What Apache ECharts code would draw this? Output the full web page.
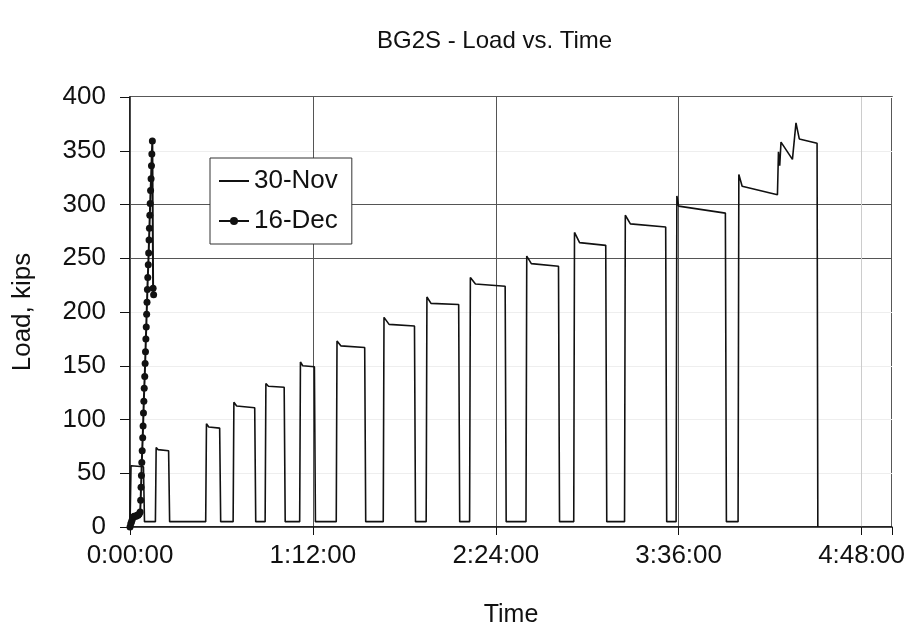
<!DOCTYPE html>
<html>
<head>
<meta charset="utf-8">
<script src="https://cdn.jsdelivr.net/npm/echarts@6/dist/echarts.min.js"></script>
<style>
  html, body { margin: 0; padding: 0; background: #fff; }
  #main { width: 914px; height: 636px; }
</style>
</head>
<body>
<div id="main"></div>
<script>
// time in minutes from start, load in kips
const novTime = [0, 0.4, 5.3, 5.7, 10.0, 10.3, 11, 15.2, 15.6, 29.8,
  30.1, 31, 35.3, 35.7, 40.6, 40.9, 42, 49.1, 49.5, 53.2,
  53.5, 54.5, 60.7, 61.1, 66.8, 67.1, 68, 72.6, 73, 81.2,
  81.5, 83, 92.4, 92.8, 99.7, 100, 102, 112, 112.4, 116.6,
  116.9, 118.5, 129.4, 129.8, 133.7, 134, 136, 147.7, 148.1, 155.9,
  156.2, 158, 168.7, 169.1, 174.7, 175, 177, 187.3, 187.7, 194.7,
  195, 197, 210.9, 211.3, 215, 215.3, 216, 234.4, 234.8, 239.4,
  239.7, 241, 254.9, 255.3, 255.8, 256.3, 260.8, 261.5, 262.2, 263.5,
  270.5, 270.8];
const novLoad = [0, 57, 56, 5, 5, 74, 72, 71, 5, 5,
  96, 93, 92, 5, 5, 116, 112.5, 111, 5, 5,
  133.5, 131, 130, 5, 5, 153.6, 150, 149, 5, 5,
  173, 168.5, 167, 5, 5, 195, 188.5, 187, 5, 5,
  214, 208, 207, 5, 5, 232, 226, 224, 5, 5,
  252, 245, 242.5, 5, 5, 274, 264.5, 262, 5, 5,
  290, 282, 279, 5, 5, 308, 298.5, 292, 5, 5,
  328, 317, 309, 349, 336, 358, 342, 341.5, 376, 361,
  357, 0];

const decTime = [0, 0.3, 0.6, 0.9, 1.2, 1.6, 2.0, 2.4, 2.8, 3.2, 3.6,
  4.0, 4.2, 4.35, 4.5, 4.65, 4.8, 5.0, 5.15, 5.3, 5.45,
  5.6, 5.8, 5.95, 6.1, 6.25, 6.4, 6.55, 6.7, 6.85, 7.0,
  7.2, 7.35, 7.5, 7.65, 7.8, 7.95, 8.1, 8.3, 8.45, 8.6,
  8.8, 9.1, 9.3];
const decLoad = [0, 3, 5, 7, 9, 10, 10, 10, 11, 11, 12,
  14, 25, 37, 48, 60, 71, 83, 94, 106, 117,
  129, 140, 152, 163, 175, 186, 198, 209, 221, 232,
  244, 255, 267, 278, 290, 301, 313, 324, 336, 347,
  359, 222, 216];

const yTicks = [0, 50, 100, 150, 200, 250, 300, 350, 400];
const xTicks = [0, 72, 144, 216, 288];

function fmtTime(m) {
  const h = Math.floor(m / 60);
  const mm = m % 60;
  return h + ':' + (mm < 10 ? '0' : '') + mm + ':00';
}

const chart = echarts.init(document.getElementById('main'));
const font = 'Liberation Sans, Arial, sans-serif';

chart.setOption({
  animation: false,
  backgroundColor: '#fff',
  textStyle: { fontFamily: font, color: '#111' },
  title: {
    text: 'BG2S - Load vs. Time',
    left: 372,
    top: 24,
    textStyle: { fontSize: 24, fontWeight: 'normal', color: '#111', fontFamily: font }
  },
  legend: {
    orient: 'vertical',
    left: 210,
    top: 158,
    padding: [10, 14, 10, 8],
    itemGap: 14,
    itemWidth: 30,
    itemHeight: 10,
    backgroundColor: '#fff',
    borderColor: '#333',
    borderWidth: 1,
    textStyle: { fontSize: 26, color: '#111', fontFamily: font },
    data: [
      { name: '30-Nov', itemStyle: { opacity: 0 } },
      { name: '16-Dec' }
    ]
  },
  grid: {
    left: 130, right: 22, top: 97, bottom: 109,
    show: true, borderColor: '#222', borderWidth: 1.5
  },
  xAxis: {
    type: 'value',
    min: 0, max: 300, interval: 72,
    name: 'Time',
    nameLocation: 'middle',
    nameGap: 76,
    nameTextStyle: { fontSize: 25, color: '#111' },
    axisLine: { lineStyle: { color: '#111', width: 1.5 } },
    axisTick: { length: 8, lineStyle: { color: '#111' } },
    axisLabel: {
      fontSize: 26, color: '#111', margin: 16,
      formatter: v => xTicks.indexOf(v) >= 0 ? fmtTime(v) : ''
    },
    splitLine: {
      show: true,
      lineStyle: { color: ['#fff', '#555', '#555', '#555', '#ccc', '#fff'], width: 1 }
    }
  },
  yAxis: {
    type: 'value',
    min: 0, max: 400, interval: 50,
    name: 'Load, kips',
    nameLocation: 'middle',
    nameGap: 94,
    nameTextStyle: { fontSize: 26, color: '#111' },
    axisLine: { show: true, lineStyle: { color: '#111', width: 1.5 } },
    axisTick: { show: true, length: 10, lineStyle: { color: '#111' } },
    axisLabel: { fontSize: 26, color: '#111', margin: 24 },
    splitLine: {
      show: true,
      lineStyle: { color: ['#fff', '#eee', '#eee', '#eee', '#eee', '#555', '#555', '#eee', '#fff'], width: 1 }
    }
  },
  series: [
    {
      name: '30-Nov',
      type: 'line',
      showSymbol: false,
      symbol: 'none',
      color: '#111',
      lineStyle: { color: '#111', width: 1.6 },
      data: novTime.map((t, i) => [t, novLoad[i]])
    },
    {
      name: '16-Dec',
      type: 'line',
      symbol: 'circle',
      symbolSize: 7,
      color: '#111',
      itemStyle: { color: '#111' },
      lineStyle: { color: '#111', width: 2 },
      data: decTime.map((t, i) => [t, decLoad[i]])
    }
  ]
});
</script>
</body>
</html>
